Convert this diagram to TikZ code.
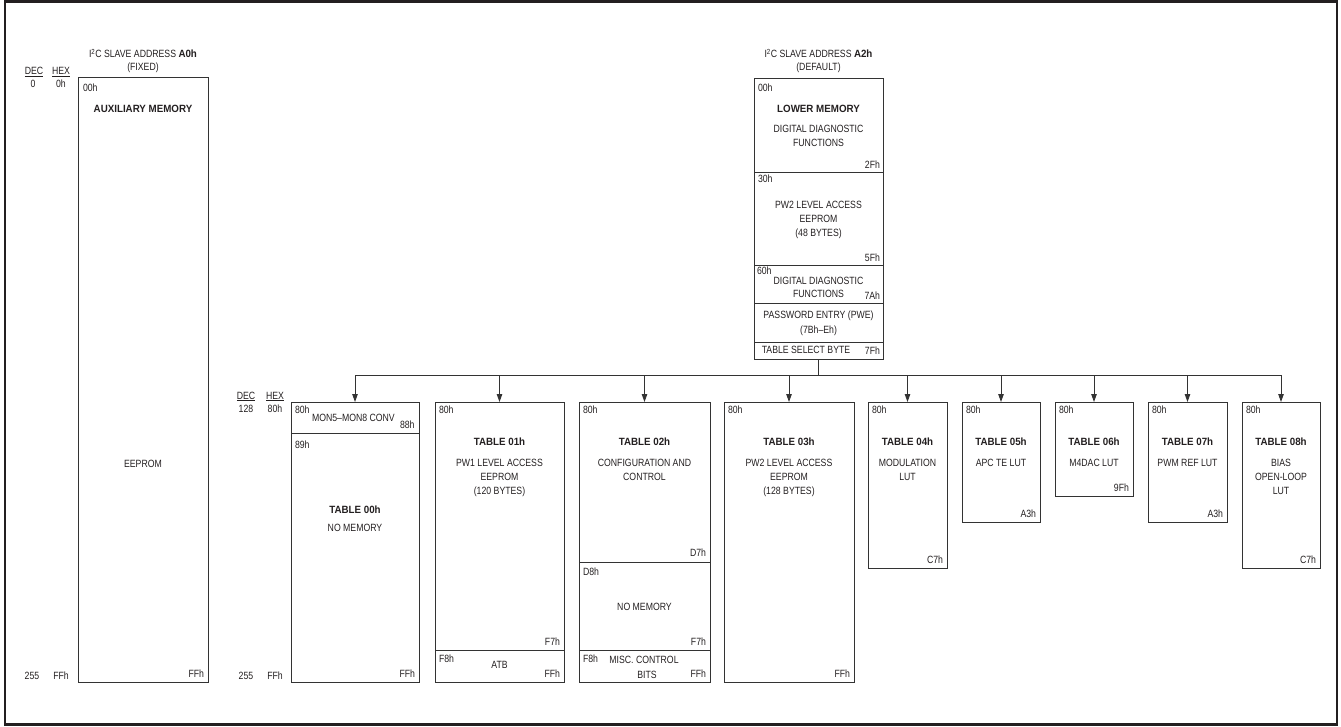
\documentclass[tikz,border=0pt]{standalone}
\usepackage{fontspec}
\setmainfont{Liberation Sans}[FakeStretch=0.83, BoldFeatures={FakeStretch=0.93}]
\usetikzlibrary{arrows.meta}
\definecolor{txtc}{HTML}{231F20}
\definecolor{linec}{HTML}{333333}
\newcommand\dfont{\fontsize{10.5pt}{14pt}\selectfont}
\tikzset{
  membox/.style={draw=linec, line width=0.9pt, inner sep=0pt, outer sep=0pt, anchor=north west},
  lbl/.style={inner sep=0pt, outer sep=0pt, anchor=base, text=txtc, font=\dfont},
  lw/.style={lbl, anchor=base west},
  le/.style={lbl, anchor=base east},
  hd/.style={lbl, font=\dfont\bfseries},
  busline/.style={draw=linec, line width=0.9pt},
  arr/.style={draw=linec, line width=0.9pt, -{Triangle[length=8pt,width=5.5pt]}}
}
\begin{document}
\begin{tikzpicture}[x=1pt,y=-1pt]
\useasboundingbox (0,0) rectangle (1341,727);
\draw[draw=txtc, line width=2.5pt] (5,1.5) rectangle (1337,724.5);

% left scale
\node[lbl] (dec0) at (34,75) {\underline{DEC}};
\node[lbl] (dec0v) at (33,88) {0};
\node[lbl] (hex0) at (61,75) {\underline{HEX}};
\node[lbl] (hex0v) at (61,88) {0h};
\node[lbl] (dec255) at (32,679) {255};
\node[lbl] (hexff) at (61,679) {FFh};

% A0h
\node[lbl] (a0t1) at (143,58) {I\textsuperscript{2}C SLAVE ADDRESS \textbf{A0h}};
\node[lbl] (a0t2) at (143,71) {(FIXED)};
\node[membox, minimum width=130pt, minimum height=605pt] (aux) at (78,77) {};
\node[lw] (aux00) at (83,92) {00h};
\node[hd] (auxh) at (143,113) {AUXILIARY MEMORY};
\node[lbl] (auxe) at (143,467) {EEPROM};
\node[le] (auxff) at (204,677) {FFh};

% A2h
\node[lbl] (a2t1) at (818.5,58) {I\textsuperscript{2}C SLAVE ADDRESS \textbf{A2h}};
\node[lbl] (a2t2) at (818.5,71) {(DEFAULT)};
\node[membox, minimum width=129pt, minimum height=94pt] (a2low) at (754,78) {};
\node[membox, minimum width=129pt, minimum height=93pt] (a2pw2) at (754,172) {};
\node[membox, minimum width=129pt, minimum height=38pt] (a2dd) at (754,265) {};
\node[membox, minimum width=129pt, minimum height=39pt] (a2pwe) at (754,303) {};
\node[membox, minimum width=129pt, minimum height=17pt] (a2tsb) at (754,342) {};
\node[lw] (a200) at (758,92) {00h};
\node[hd] (a2lh) at (818.5,113) {LOWER MEMORY};
\node[lbl] (a2l1) at (818.5,133) {DIGITAL DIAGNOSTIC};
\node[lbl] (a2l2) at (818.5,147) {FUNCTIONS};
\node[le] (a22f) at (880,169) {2Fh};
\node[lw] (a230) at (758,183) {30h};
\node[lbl] (a2p1) at (818.5,209) {PW2 LEVEL ACCESS};
\node[lbl] (a2p2) at (818.5,223) {EEPROM};
\node[lbl] (a2p3) at (818.5,237) {(48 BYTES)};
\node[le] (a25f) at (880,262) {5Fh};
\node[lw] (a260) at (757,275) {60h};
\node[lbl] (a2d1) at (818.5,284) {DIGITAL DIAGNOSTIC};
\node[lbl] (a2d2) at (818.5,298) {FUNCTIONS};
\node[le] (a27a) at (880,300) {7Ah};
\node[lbl] (a2w1) at (818.5,319) {PASSWORD ENTRY (PWE)};
\node[lbl] (a2w2) at (818.5,333) {(7Bh–Eh)};
\node[lbl] (a2s) at (806,353) {TABLE SELECT BYTE};
\node[le] (a27f) at (880,354) {7Fh};

% table scale
\node[lbl] (dec128) at (246,399) {\underline{DEC}};
\node[lbl] (dec128v) at (246,412) {128};
\node[lbl] (hex80) at (275,399) {\underline{HEX}};
\node[lbl] (hex80v) at (275,412) {80h};
\node[lbl] (dec255b) at (246,679) {255};
\node[lbl] (hexffb) at (275,679) {FFh};

% Table 00h
\node[membox, minimum width=128pt, minimum height=31pt] (t00a) at (291,402) {};
\node[membox, minimum width=128pt, minimum height=249pt] (t00b) at (291,433) {};
\node[lw] (t0080) at (295,413) {80h};
\node[lw] (t00m) at (312,421) {MON5–MON8 CONV};
\node[lw] (t0088) at (400,428) {88h};
\node[lw] (t0089) at (295,448) {89h};
\node[hd] (t00h) at (355,513) {TABLE 00h};
\node[lbl] (t00n) at (355,531) {NO MEMORY};
\node[le] (t00ff) at (415,677) {FFh};

% Table 01h
\node[membox, minimum width=129pt, minimum height=248pt] (t01a) at (435,402) {};
\node[membox, minimum width=129pt, minimum height=32pt] (t01b) at (435,650) {};
\node[lw] (t0180) at (439,413) {80h};
\node[hd] (t01h) at (499.5,445) {TABLE 01h};
\node[lbl] (t011) at (499.5,466) {PW1 LEVEL ACCESS};
\node[lbl] (t012) at (499.5,480) {EEPROM};
\node[lbl] (t013) at (499.5,494) {(120 BYTES)};
\node[le] (t01f7) at (560,645) {F7h};
\node[lw] (t01f8) at (439,662) {F8h};
\node[lbl] (t01atb) at (499.5,668) {ATB};
\node[le] (t01ff) at (560,677) {FFh};

% Table 02h
\node[membox, minimum width=131pt, minimum height=160pt] (t02a) at (579,402) {};
\node[membox, minimum width=131pt, minimum height=88pt] (t02b) at (579,562) {};
\node[membox, minimum width=131pt, minimum height=32pt] (t02c) at (579,650) {};
\node[lw] (t0280) at (583,413) {80h};
\node[hd] (t02h) at (644.5,445) {TABLE 02h};
\node[lbl] (t021) at (644.5,466) {CONFIGURATION AND};
\node[lbl] (t022) at (644.5,480) {CONTROL};
\node[le] (t02d7) at (706,556) {D7h};
\node[lw] (t02d8) at (583,575) {D8h};
\node[lbl] (t02n) at (644.5,610) {NO MEMORY};
\node[le] (t02f7) at (706,645) {F7h};
\node[lw] (t02f8) at (583,662) {F8h};
\node[lbl] (t02m1) at (644,663) {MISC. CONTROL};
\node[lbl] (t02m2) at (647,678) {BITS};
\node[le] (t02ff) at (706,677) {FFh};

% Table 03h
\node[membox, minimum width=130pt, minimum height=280pt] (t03) at (724,402) {};
\node[lw] (t0380) at (728,413) {80h};
\node[hd] (t03h) at (789,445) {TABLE 03h};
\node[lbl] (t031) at (789,466) {PW2 LEVEL ACCESS};
\node[lbl] (t032) at (789,480) {EEPROM};
\node[lbl] (t033) at (789,494) {(128 BYTES)};
\node[le] (t03ff) at (850,677) {FFh};

% Table 04h
\node[membox, minimum width=79pt, minimum height=166pt] (t04) at (868,402) {};
\node[lw] (t0480) at (872,413) {80h};
\node[hd] (t04h) at (907.5,445) {TABLE 04h};
\node[lbl] (t041) at (907.5,466) {MODULATION};
\node[lbl] (t042) at (907.5,480) {LUT};
\node[le] (t04c7) at (943,563) {C7h};

% Table 05h
\node[membox, minimum width=78pt, minimum height=120pt] (t05) at (962,402) {};
\node[lw] (t0580) at (966,413) {80h};
\node[hd] (t05h) at (1001,445) {TABLE 05h};
\node[lbl] (t051) at (1001,466) {APC TE LUT};
\node[le] (t05a3) at (1036,517) {A3h};

% Table 06h
\node[membox, minimum width=78pt, minimum height=94pt] (t06) at (1055,402) {};
\node[lw] (t0680) at (1059,413) {80h};
\node[hd] (t06h) at (1094,445) {TABLE 06h};
\node[lbl] (t061) at (1094,466) {M4DAC LUT};
\node[le] (t069f) at (1129,491) {9Fh};

% Table 07h
\node[membox, minimum width=79pt, minimum height=120pt] (t07) at (1148,402) {};
\node[lw] (t0780) at (1152,413) {80h};
\node[hd] (t07h) at (1187.5,445) {TABLE 07h};
\node[lbl] (t071) at (1187.5,466) {PWM REF LUT};
\node[le] (t07a3) at (1223,517) {A3h};

% Table 08h
\node[membox, minimum width=78pt, minimum height=166pt] (t08) at (1242,402) {};
\node[lw] (t0880) at (1246,413) {80h};
\node[hd] (t08h) at (1281,445) {TABLE 08h};
\node[lbl] (t081) at (1281,466) {BIAS};
\node[lbl] (t082) at (1281,480) {OPEN-LOOP};
\node[lbl] (t083) at (1281,494) {LUT};
\node[le] (t08c7) at (1316,563) {C7h};

% bus
\coordinate (bus) at (818.5,375);
\draw[busline] (a2tsb.south) -- (a2tsb.south |- bus);
\draw[busline] (t00a.north |- bus) -- (t08.north |- bus);
\foreach \t in {t00a,t01a,t02a,t03,t04,t05,t06,t07,t08}
  \draw[arr] (\t.north |- bus) -- (\t.north);
\end{tikzpicture}
\end{document}
